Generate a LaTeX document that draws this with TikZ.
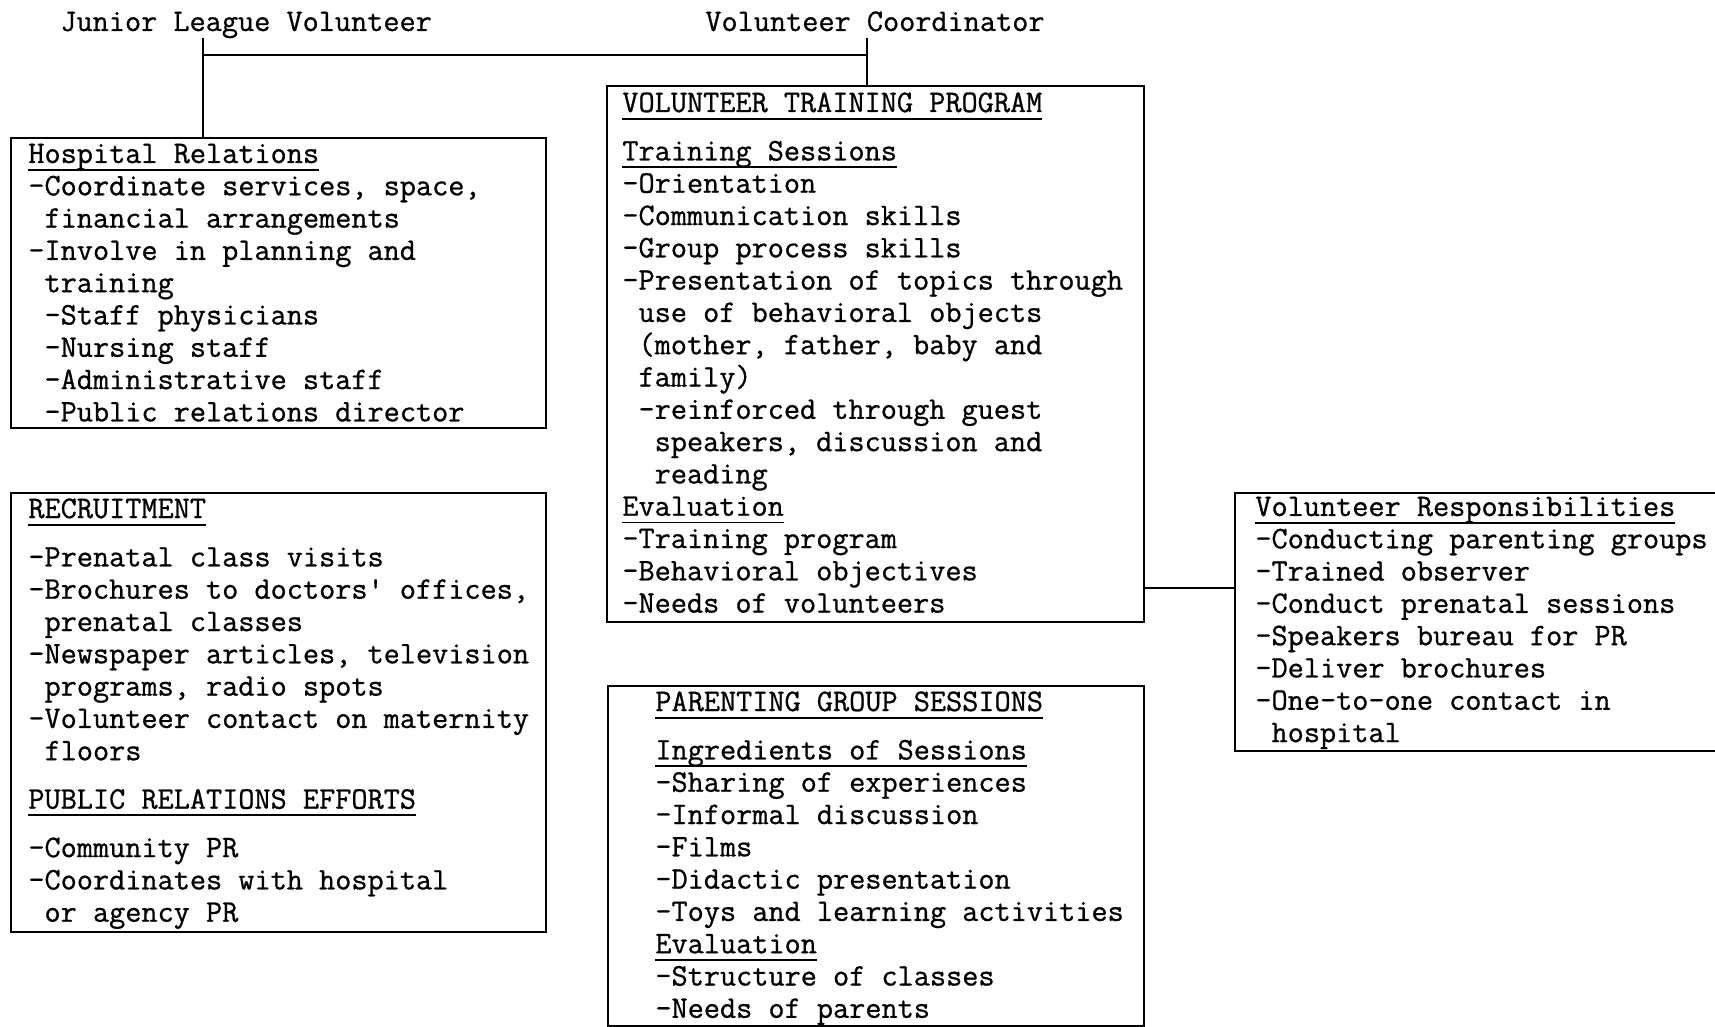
\documentclass[tikz,border=0pt]{standalone}
\usepackage{fontspec}
\usepackage{array}
\newfontfamily\twfam{lmmono12-regular.otf}[FakeBold=0.8]
\newcommand\twfont{\twfam\fontsize{15.68pt}{16.15pt}\selectfont\frenchspacing}
\newcommand\myul[1]{\setbox0=\hbox{#1}\rlap{\rule[-3.8pt]{\wd0}{0.9pt}}\box0}
\newcommand\myind{\phantom{-}}
\newcommand\hgap{8.07pt}
\tikzset{
  boxsty/.style={draw, line width=0.9pt, inner sep=0pt, anchor=north west},
  txt/.style={inner sep=0pt, anchor=base west, font=\twfont, align=left},
  conn/.style={line width=0.9pt},
}
\begin{document}
\begin{tikzpicture}[x=0.5pt, y=-0.5pt]
\useasboundingbox (0,0) rectangle (1715,1027);
\clip (0,0) rectangle (1715,1027);
\fill[white] (0,0) rectangle (1715,1027);
% top labels
\node[txt] (jl) at (60,31) {Junior League Volunteer};
\node[txt] (vc) at (705,31) {Volunteer Coordinator};
% boxes
\node[boxsty, minimum width=267.5pt, minimum height=145pt] (hr) at (10,137) {};
\node[boxsty, minimum width=267.5pt, minimum height=219.5pt] (rec) at (10,492) {};
\node[boxsty, minimum width=268.5pt, minimum height=268pt] (vtp) at (606,85) {};
\node[boxsty, minimum width=268pt, minimum height=170pt] (pgs) at (607,685) {};
\node[boxsty, minimum width=250pt, minimum height=129pt] (vr) at (1234,492) {};
% box texts
\node[txt] (hrt) at (28,163) {\begin{tabular}[t]{@{}l@{}}
\myul{Hospital Relations}\\
-Coordinate services, space,\\
\myind financial arrangements\\
-Involve in planning and\\
\myind training\\
\myind -Staff physicians\\
\myind -Nursing staff\\
\myind -Administrative staff\\
\myind -Public relations director
\end{tabular}};
\node[txt] (vtpt) at (622,112) {\begin{tabular}[t]{@{}l@{}}
\myul{VOLUNTEER TRAINING PROGRAM}\\[\hgap]
\myul{Training Sessions}\\
-Orientation\\
-Communication skills\\
-Group process skills\\
-Presentation of topics through\\
\myind use of behavioral objects\\
\myind (mother, father, baby and\\
\myind family)\\
\myind -reinforced through guest\\
\myind\myind speakers, discussion and\\
\myind\myind reading\\
\myul{Evaluation}\\
-Training program\\
-Behavioral objectives\\
-Needs of volunteers
\end{tabular}};
\node[txt] (rect) at (28,518) {\begin{tabular}[t]{@{}l@{}}
\myul{RECRUITMENT}\\[\hgap]
-Prenatal class visits\\
-Brochures to doctors' offices,\\
\myind prenatal classes\\
-Newspaper articles, television\\
\myind programs, radio spots\\
-Volunteer contact on maternity\\
\myind floors\\[\hgap]
\myul{PUBLIC RELATIONS EFFORTS}\\[\hgap]
-Community PR\\
-Coordinates with hospital\\
\myind or agency PR
\end{tabular}};
\node[txt] (pgst) at (655,711) {\begin{tabular}[t]{@{}l@{}}
\myul{PARENTING GROUP SESSIONS}\\[\hgap]
\myul{Ingredients of Sessions}\\
-Sharing of experiences\\
-Informal discussion\\
-Films\\
-Didactic presentation\\
-Toys and learning activities\\
\myul{Evaluation}\\
-Structure of classes\\
-Needs of parents
\end{tabular}};
\node[txt] (vrt) at (1255,516) {\begin{tabular}[t]{@{}l@{}}
\myul{Volunteer Responsibilities}\\
-Conducting parenting groups\\
-Trained observer\\
-Conduct prenatal sessions\\
-Speakers bureau for PR\\
-Deliver brochures\\
-One-to-one contact in\\
\myind hospital
\end{tabular}};
% connectors
\coordinate (jtop) at (203,38);
\coordinate (ctop) at (867,38);
\coordinate (bar) at (203,55);
\coordinate (side) at (1143,588);
\draw[conn] (jtop) -- (jtop |- hr.north);
\draw[conn] (ctop) -- (ctop |- vtp.north);
\draw[conn] (bar) -- (bar -| ctop);
\draw[conn] (side) -- (side -| vr.west);
\end{tikzpicture}
\end{document}
